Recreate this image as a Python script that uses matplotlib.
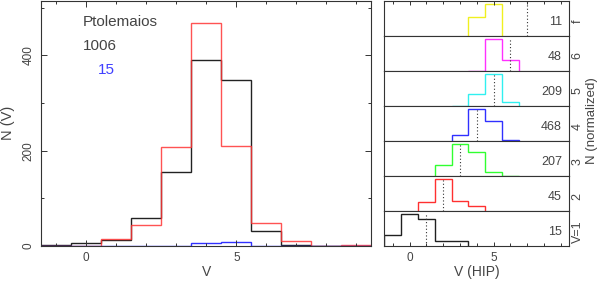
import matplotlib; matplotlib.use("Agg")
import matplotlib.pyplot as plt
import numpy as np
from matplotlib.ticker import MultipleLocator

plt.rcParams['font.family'] = ['Liberation Sans', 'DejaVu Sans']

# left panel: V histograms (bins centred on integers -1..9)
bin_centres = np.arange(-1, 10)
n_all = [2, 6, 12, 58, 155, 390, 349, 31, 3, 0, 0]
n_hip = [0, 0, 15, 45, 207, 468, 209, 48, 11, 0, 3]
n_missing = [0, 0, 0, 0, 0, 6, 9, 0, 0, 0, 0]
catalog_name = "Ptolemaios"
total_all = "1006"
total_missing = "15"

# right panels: V(HIP) distribution for each Ptolemaios magnitude class
classes = ["f", "6", "5", "4", "3", "2", "V=1"]
class_mag = [7, 6, 5, 4, 3, 2, 1]
class_n = [11, 48, 209, 468, 207, 45, 15]
class_first_bin = [4, 4, 3, 3, 2, 1, -1]
class_counts = [
    [4, 7],
    [0, 36, 12],
    [0, 53, 141, 15],
    [46, 255, 158, 9],
    [32, 94, 71, 10, 0],
    [7, 26, 8, 4],
    [2, 6, 5, 1, 1],
]
class_colors = ['#f0f020', '#ff30ff', '#30f0f0', '#3030ff', '#30ff30', '#ff3030', '#202020']

frame = '#333333'
txt = '#444444'

fig = plt.figure(figsize=(5.98, 2.81), dpi=100)

# ---- left panel
ax = fig.add_axes([41.3/598, 35/281, 330/598, 245.5/281])
edges = np.append(bin_centres - 0.5, bin_centres[-1] + 0.5)
ax.stairs(n_all, edges, color='#222222', lw=1.0)
ax.stairs(n_hip, edges, color='#ff3535', lw=1.0, alpha=0.85)
ax.stairs(n_missing, edges, color='#3030ff', lw=1.0)
ax.set_xlim(-1.5, 9.5)
ax.set_ylim(0, 515)
ax.xaxis.set_major_locator(MultipleLocator(5))
ax.xaxis.set_minor_locator(MultipleLocator(1))
ax.yaxis.set_major_locator(MultipleLocator(200))
ax.yaxis.set_minor_locator(MultipleLocator(100))
ax.tick_params(which='both', direction='in', top=True, right=True, colors=frame,
               labelcolor=txt, labelsize=8.5, width=0.7)
ax.tick_params(which='major', length=4)
ax.tick_params(which='minor', length=2.2)
ax.tick_params(axis='y', labelrotation=90, pad=5)
ax.tick_params(axis='x', pad=4)
for lbl in ax.get_yticklabels():
    lbl.set_va('center')
for s in ax.spines.values():
    s.set_color(frame)
    s.set_linewidth(0.8)
ax.set_xlabel('V', fontsize=10, color=txt, labelpad=1)
ax.set_ylabel('N (V)', fontsize=10.5, color=txt, labelpad=5)
ax.text(82.7/598, 1 - 21.7/281, catalog_name, transform=fig.transFigure,
        fontsize=11, color=txt, va='center', ha='left')
ax.text(82.7/598, 1 - 45.7/281, total_all, transform=fig.transFigure,
        fontsize=11, color=txt, va='center', ha='left')
ax.text(98/598, 1 - 70/281, total_missing, transform=fig.transFigure,
        fontsize=11, color='#4040ff', va='center', ha='left')

# ---- right panels
x0, x1 = 384.3/598, 569.3/598
top_px, bot_px = 0.5, 246.0
h = (bot_px - top_px) / len(classes)
for i, name in enumerate(classes):
    y_top = top_px + i * h
    a = fig.add_axes([x0, 1 - (y_top + h)/281, x1 - x0, h/281])
    counts = np.array(class_counts[i], dtype=float)
    first = class_first_bin[i]
    e = np.arange(first - 0.5, first + len(counts), 1.0)
    a.stairs(counts / counts.max(), e, color=class_colors[i], lw=1.0)
    vtop = 1.1 if name == 'f' else 1.0
    a.vlines(class_mag[i], 0, vtop, colors='#333333', linestyles=(0, (1, 2)), lw=0.8)
    a.set_xlim(-1.5, 9.5)
    a.set_ylim(0, 1.1)
    a.set_yticks([])
    a.xaxis.set_major_locator(MultipleLocator(5))
    a.xaxis.set_minor_locator(MultipleLocator(1))
    last = i == len(classes) - 1
    a.tick_params(which='both', direction='in', bottom=last, top=(i == 0),
                  labelbottom=last, colors=frame, labelcolor=txt, labelsize=8.5,
                  width=0.7, pad=4)
    a.tick_params(which='major', length=3)
    a.tick_params(which='minor', length=2.2)
    for s in a.spines.values():
        s.set_color(frame)
        s.set_linewidth(0.8)
    a.text(0.96, 0.4, str(class_n[i]), transform=a.transAxes, ha='right',
           va='center', fontsize=9, color=txt)
    a.text(1.045, 0.42, name, transform=a.transAxes, ha='center', va='center',
           rotation=90, fontsize=9, color=txt)
    if last:
        a.set_xlabel('V (HIP)', fontsize=10, color=txt, labelpad=1)

fig.text(592/598, 1 - 121/281, 'N (normalized)', rotation=90, ha='center',
         va='center', fontsize=9.5, color=txt)

plt.savefig("out.png", dpi=100)
